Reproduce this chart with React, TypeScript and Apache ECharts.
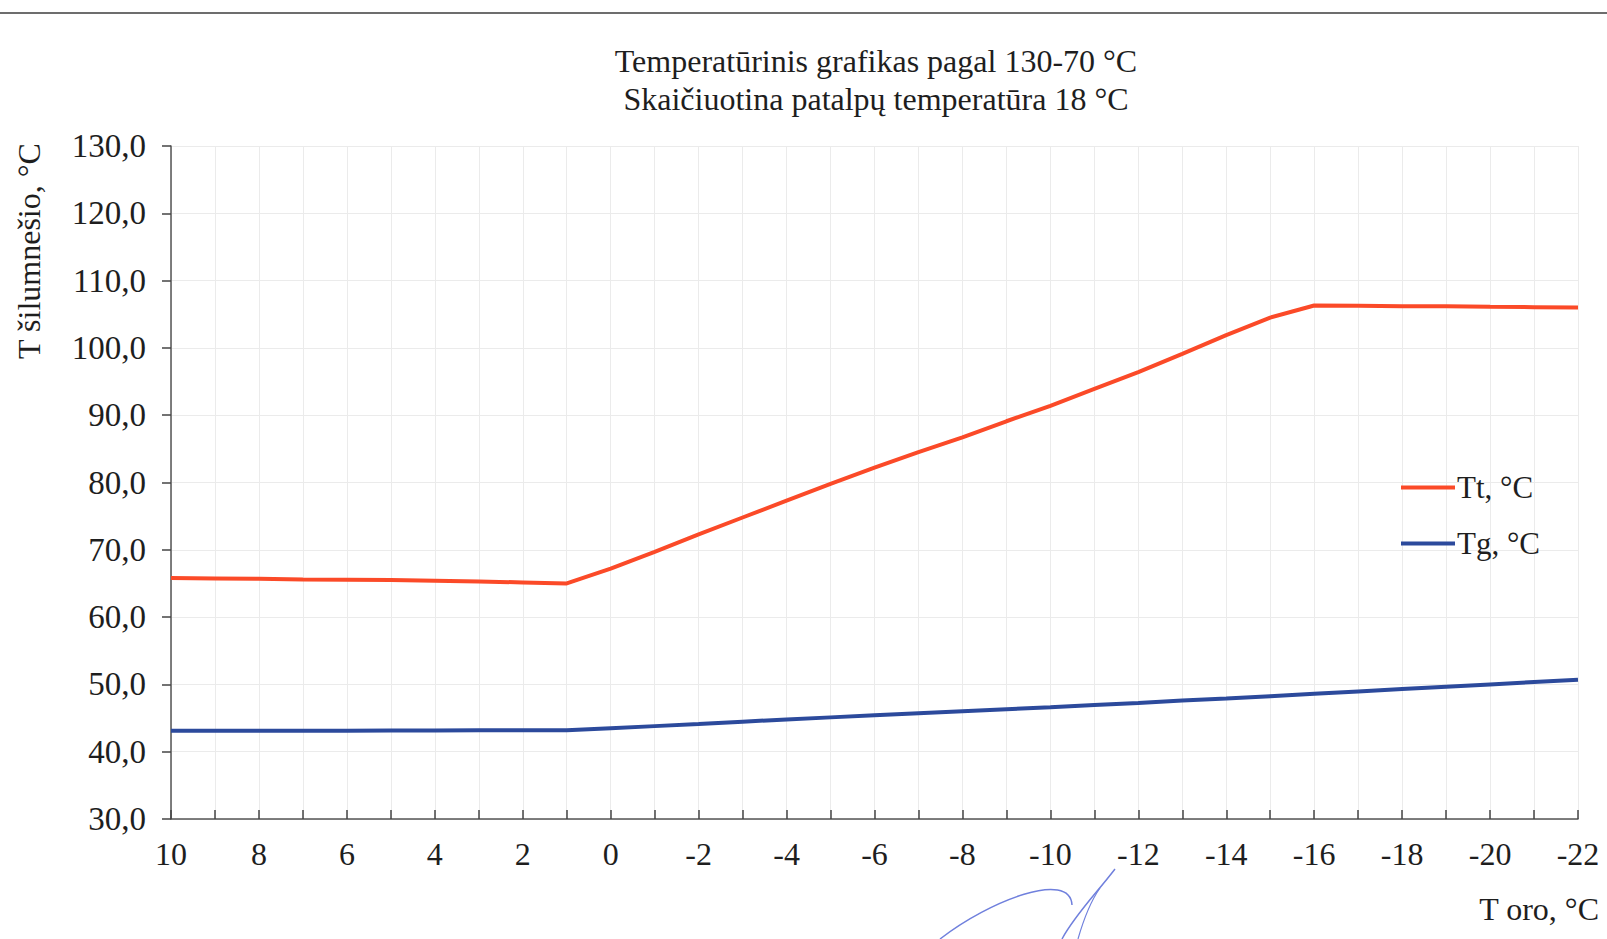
import React, { useEffect, useRef } from "react";
import * as echarts from "echarts";

const outdoorTemps = [10, 9, 8, 7, 6, 5, 4, 3, 2, 1, 0, -1, -2, -3, -4, -5, -6, -7, -8, -9, -10, -11, -12, -13, -14, -15, -16, -17, -18, -19, -20, -21, -22];
const ttValues = [65.8, 65.75, 65.7, 65.6, 65.55, 65.5, 65.4, 65.3, 65.15, 65.0, 67.2, 69.7, 72.3, 74.8, 77.3, 79.8, 82.2, 84.5, 86.7, 89.1, 91.4, 93.9, 96.4, 99.1, 101.9, 104.5, 106.3, 106.25, 106.2, 106.2, 106.1, 106.05, 106.0];
const tgValues = [43.1, 43.1, 43.1, 43.1, 43.1, 43.15, 43.15, 43.2, 43.2, 43.2, 43.5, 43.8, 44.1, 44.45, 44.8, 45.1, 45.4, 45.7, 46.0, 46.3, 46.6, 46.95, 47.25, 47.6, 47.9, 48.25, 48.6, 48.95, 49.3, 49.65, 50.0, 50.35, 50.7];

const titleLines = ["Temperatūrinis grafikas pagal 130-70 °C", "Skaičiuotina patalpų temperatūra 18 °C"];
const seriesNames = ["Tt, °C", "Tg, °C"];
const yAxisName = "T šilumnešio, °C";
const xAxisName = "T oro, °C";

const FONT = "Liberation Serif";

export default function App() {
  const ref = useRef<HTMLDivElement>(null);
  useEffect(() => {
    if (!ref.current) return;
    const chart = echarts.init(ref.current, null, { renderer: "svg" });
    const option: any = {
      animation: false,
      backgroundColor: "#ffffff",
      textStyle: { fontFamily: FONT },
      title: {
        text: titleLines.join("\n"),
        left: 871,
        top: 37,
        textAlign: "center",
        textStyle: { fontFamily: FONT, fontSize: 32, fontWeight: "normal", color: "#1e1e1e", lineHeight: 38 },
      },
      legend: {
        orient: "vertical",
        left: 1396,
        top: 467,
        itemWidth: 54,
        itemHeight: 4,
        itemGap: 25,
        icon: "rect",
        data: seriesNames,
        textStyle: { fontFamily: FONT, fontSize: 31, color: "#1e1e1e", padding: [0, 0, 0, -3] },
      },
      grid: { left: 171, right: 29, top: 146, bottom: 120, containLabel: false },
      xAxis: {
        type: "value",
        inverse: true,
        min: -22,
        max: 10,
        interval: 1,
        axisLine: { show: true, onZero: false, lineStyle: { color: "#555", width: 1.5 } },
        axisTick: { show: true, inside: true, length: 9, lineStyle: { color: "#444", width: 1.5 } },
        axisLabel: {
          margin: 19,
          fontFamily: FONT,
          fontSize: 32,
          color: "#1e1e1e",
          formatter: (v: number) => (Math.round(v) % 2 === 0 ? String(Math.round(v)) : ""),
        },
        splitLine: { show: true, lineStyle: { color: "#ebebeb", width: 1 } },
      },
      yAxis: {
        type: "value",
        min: 30,
        max: 130,
        interval: 10,
        axisLine: { show: true, onZero: false, lineStyle: { color: "#555", width: 1.5 } },
        axisTick: { show: true, inside: false, length: 9, lineStyle: { color: "#444", width: 1.5 } },
        axisLabel: {
          margin: 25,
          fontFamily: FONT,
          fontSize: 33,
          color: "#1e1e1e",
          formatter: (v: number) => v.toFixed(1).replace(".", ","),
        },
        splitLine: { show: true, lineStyle: { color: "#ebebeb", width: 1 } },
      },
      series: [
        {
          name: seriesNames[0],
          type: "line",
          data: outdoorTemps.map((t, i) => [t, ttValues[i]]),
          showSymbol: false,
          symbol: "none",
          lineStyle: { color: "#fb4a28", width: 4 },
          itemStyle: { color: "#fb4a28" },
          z: 3,
        },
        {
          name: seriesNames[1],
          type: "line",
          data: outdoorTemps.map((t, i) => [t, tgValues[i]]),
          showSymbol: false,
          symbol: "none",
          lineStyle: { color: "#2c4a9c", width: 4 },
          itemStyle: { color: "#2c4a9c" },
          z: 3,
        },
      ],
      graphic: [
        {
          type: "line",
          shape: { x1: 0, y1: 13, x2: 1607, y2: 13 },
          style: { stroke: "#6d6d6d", lineWidth: 2 },
        },
        {
          type: "text",
          x: 29,
          y: 251,
          rotation: Math.PI / 2,
          style: {
            text: yAxisName,
            fontFamily: FONT,
            fontSize: 32,
            fill: "#1e1e1e",
            textAlign: "center",
            textVerticalAlign: "middle",
          },
        },
        {
          type: "text",
          x: 1599,
          y: 909,
          style: {
            text: xAxisName,
            fontFamily: FONT,
            fontSize: 32,
            fill: "#1e1e1e",
            textAlign: "right",
            textVerticalAlign: "middle",
          },
        },
        {
          type: "bezierCurve",
          shape: { x1: 940, y1: 939, cpx1: 990, cpy1: 900, cpx2: 1070, cpy2: 870, x2: 1072, y2: 905 },
          style: { stroke: "#7080dd", lineWidth: 1.5, fill: "none" },
        },
        {
          type: "bezierCurve",
          shape: { x1: 1115, y1: 869, cpx1: 1095, cpy1: 895, cpx2: 1075, cpy2: 915, x2: 1062, y2: 939 },
          style: { stroke: "#7080dd", lineWidth: 1.5, fill: "none" },
        },
        {
          type: "bezierCurve",
          shape: { x1: 1100, y1: 888, cpx1: 1088, cpy1: 905, cpx2: 1082, cpy2: 925, x2: 1078, y2: 939 },
          style: { stroke: "#7080dd", lineWidth: 1.2, fill: "none" },
        },
      ],
    };
    chart.setOption(option);
    return () => chart.dispose();
  }, []);
  return (
    <div
      ref={ref}
      style={{ position: "fixed", left: 0, top: 0, width: "1607px", height: "939px", background: "#fff" }}
    />
  );
}
